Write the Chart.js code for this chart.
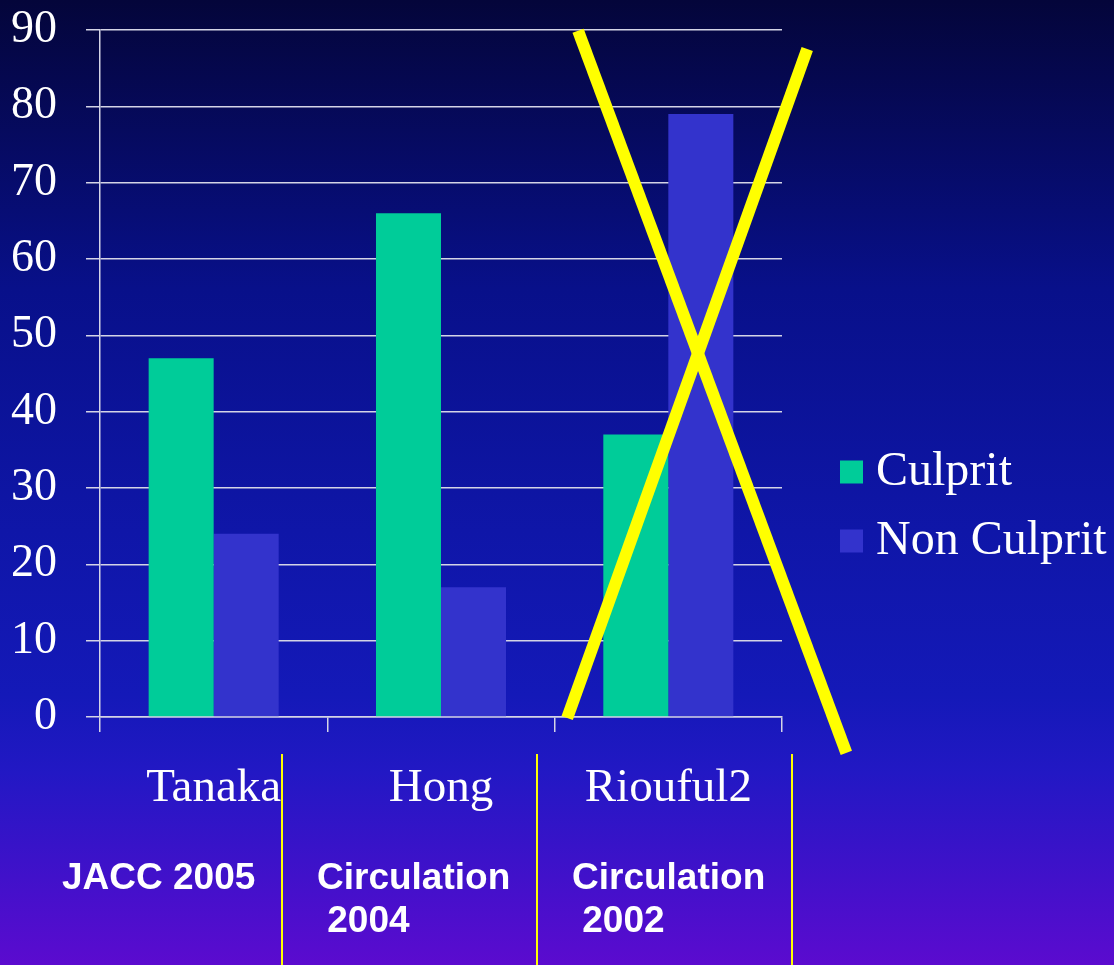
<!DOCTYPE html>
<html>
<head>
<meta charset="utf-8">
<script src="https://cdn.jsdelivr.net/npm/chart.js@4.4.0/dist/chart.umd.min.js"></script>
<style>
  html, body { margin: 0; padding: 0; }
  body {
    width: 1114px; height: 965px; overflow: hidden; position: relative;
    background: linear-gradient(to bottom, #04053a 0%, #08108a 30%, #0f16a8 55%, #1419b8 72%, #2218c4 80%, #5b0bcf 100%);
  }
  #chart { position: absolute; left: 0; top: 0; }
  .src { position: absolute; color: #fff; font: bold 37px 'Liberation Sans', Arial, sans-serif; line-height: 43px; white-space: pre; }
  .sep { position: absolute; top: 754px; width: 2px; height: 211px; background: #ffff00; }
</style>
</head>
<body>
<canvas id="chart" width="1114" height="965"></canvas>
<div class="sep" style="left:281px"></div>
<div class="sep" style="left:536px"></div>
<div class="sep" style="left:791px"></div>
<div class="src" style="left:62px; top:855px">JACC 2005</div>
<div class="src" style="left:317px; top:855px">Circulation
 2004</div>
<div class="src" style="left:572px; top:855px">Circulation
 2002</div>
<script>
const categories = ['Tanaka', 'Hong', 'Riouful2'];
const culprit = [47, 66, 37];
const nonCulprit = [24, 17, 79];
const yTicks = [0, 10, 20, 30, 40, 50, 60, 70, 80, 90];

// yellow cross over the Riouful2 group, in axis units (category index, y value)
const crossLines = [
  [1.603, 89.9, 2.783, -4.7],
  [1.555, -0.13, 2.611, 87.5]
];

const serif = "'Liberation Serif', 'Times New Roman', serif";
const gridColor = '#d4d4e6';

const crossPlugin = {
  id: 'cross',
  afterDraw(chart) {
    const { ctx, scales: { x, y } } = chart;
    ctx.save();
    ctx.strokeStyle = '#ffff00';
    ctx.lineWidth = 12;
    ctx.lineCap = 'butt';
    crossLines.forEach(([x1, y1, x2, y2]) => {
      ctx.beginPath();
      ctx.moveTo(x.getPixelForValue(x1), y.getPixelForValue(y1));
      ctx.lineTo(x.getPixelForValue(x2), y.getPixelForValue(y2));
      ctx.stroke();
    });
    ctx.restore();
  }
};

const sideLegend = {
  id: 'sideLegend',
  afterDraw(chart) {
    const ctx = chart.ctx;
    ctx.save();
    ctx.font = `48px ${serif}`;
    ctx.textBaseline = 'middle';
    chart.data.datasets.forEach((ds, i) => {
      const cy = 472 + i * 69;
      ctx.fillStyle = ds.backgroundColor;
      ctx.fillRect(840, cy - 11.5, 23, 23);
      ctx.fillStyle = '#ffffff';
      ctx.fillText(ds.label, 876, cy);
    });
    ctx.restore();
  }
};

new Chart(document.getElementById('chart'), {
  type: 'bar',
  data: {
    labels: categories,
    datasets: [
      { label: 'Culprit', data: culprit, backgroundColor: '#00cc99' },
      { label: 'Non Culprit', data: nonCulprit, backgroundColor: '#3333cc' }
    ]
  },
  options: {
    responsive: false,
    devicePixelRatio: 1,
    animation: false,
    categoryPercentage: 0.572,
    barPercentage: 1,
    layout: { padding: { top: 30, right: 332, left: 0, bottom: 0 } },
    plugins: { legend: { display: false }, tooltip: { enabled: false } },
    scales: {
      x: {
        grid: { drawOnChartArea: false, drawTicks: true, tickLength: 15, color: gridColor, lineWidth: 1.5, offset: true },
        border: { display: true, color: gridColor, width: 1.5 },
        ticks: { color: '#ffffff', font: { family: serif, size: 47 }, padding: 28 },
        afterFit: (s) => { s.height = 248; }
      },
      y: {
        min: 0,
        max: 90,
        afterBuildTicks: (s) => { s.ticks = yTicks.map((v) => ({ value: v })); },
        grid: { color: gridColor, lineWidth: 1.5, tickLength: 14 },
        border: { display: true, color: gridColor, width: 1.5 },
        ticks: { color: '#ffffff', font: { family: serif, size: 46 }, padding: 29 },
        afterFit: (s) => { s.width = 100; s.paddingTop = 0; s.paddingBottom = 0; }
      }
    }
  },
  plugins: [crossPlugin, sideLegend]
});
</script>
</body>
</html>
